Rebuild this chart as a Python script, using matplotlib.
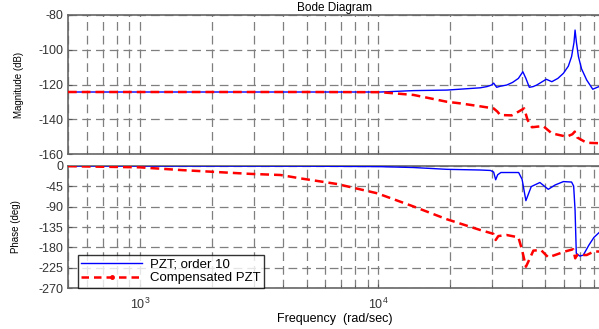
import matplotlib
matplotlib.use("Agg")
import matplotlib.pyplot as plt
from matplotlib.lines import Line2D
from matplotlib.ticker import LogLocator, NullFormatter, FixedLocator

plt.rcParams['font.family'] = ['Liberation Sans', 'DejaVu Sans']
plt.rcParams['axes.unicode_minus'] = False

# ---- data ----
mag_pzt_w = [500, 1000, 5000, 10200, 14060, 19370, 26700, 28500, 29800, 30400, 31300,
             32400, 34500, 36500, 38600, 40300, 41500, 42900, 44500, 46100, 50500,
             53300, 56500, 59600, 62500, 64500, 66000, 66700, 67600, 68900, 71000,
             74600, 79100, 84000, 87000]
mag_pzt_db = [-124.3, -124.3, -124.3, -124.3, -123.5, -123.2, -121.9, -121.2, -120.3, -119.2, -121.6,
              -121.0, -120.3, -118.8, -116.5, -112.7, -116.5, -121.6, -121.2, -120.3, -117.0,
              -118.4, -116.5, -113.6, -109.5, -104.0, -96.0, -88.8, -96.0, -104.0, -111.0,
              -117.4, -122.7, -121.2, -120.5]

mag_comp_w = [500, 5000, 10200, 14060, 19370, 22000, 26700, 30400, 31500, 32400, 36200,
              38600, 40800, 42200, 44000, 49000, 53300, 61500, 65000, 66500, 68000,
              74600, 87000]
mag_comp_db = [-124.3, -124.3, -124.4, -126.0, -129.9, -130.8, -132.5, -133.7, -135.5, -137.5, -137.7,
               -135.6, -133.7, -140.4, -144.5, -143.8, -148.0, -149.9, -148.5, -147.0, -150.3,
               -153.4, -153.7]

ph_pzt_w = [500, 1000, 5000, 10000, 14000, 19370, 26700, 29500, 30400, 31000, 31600,
            32600, 38700, 40000, 41500, 43700, 47500, 51500, 55000, 59600, 64500,
            65800, 66700, 67500, 69800, 72200, 76200, 80000, 87000]
ph_pzt_deg = [-0.5, -0.7, -1.0, -2.0, -4.0, -8.0, -9.5, -10.5, -14.0, -31.0, -20.0,
              -15.0, -15.0, -30.0, -77.0, -46.0, -37.0, -52.0, -42.5, -35.0, -36.0,
              -45.0, -97.6, -193.0, -199.0, -197.0, -175.0, -158.0, -140.0]

ph_comp_w = [500, 1000, 1480, 2900, 3890, 4720, 6710, 9890, 14060, 19370, 26700, 30300,
             31000, 31800, 34400, 38600, 40000, 41500, 42800, 44600, 48000, 51500,
             55000, 60500, 65500, 66800, 68000, 71000, 74600, 80000, 87000]
ph_comp_deg = [-1.0, -3.6, -9.5, -18.0, -20.5, -28.0, -40.3, -60.8, -90.0, -118.0, -141.6, -150.0,
               -163.6, -155.0, -152.6, -157.7, -185.7, -222.5, -207.7, -187.0, -185.7, -201.8,
               -196.7, -189.0, -184.0, -204.0, -196.7, -196.7, -196.7, -189.0, -189.0]

mag_ticks = [-80, -100, -120, -140, -160]
ph_ticks = [0, -45, -90, -135, -180, -225, -270]
legend_labels = ['PZT; order 10', 'Compensated PZT']
title = 'Bode Diagram'
xlabel = 'Frequency  (rad/sec)'

# ---- figure ----
W, H = 599, 329
fig = plt.figure(figsize=(W / 100, H / 100), dpi=100)

def px_axes(l, t, r, b):
    return fig.add_axes([l / W, 1 - b / H, (r - l) / W, (b - t) / H])

ax1 = px_axes(68, 14.7, 602, 154.3)
ax2 = px_axes(68, 165.7, 602, 288.3)

xlim = (500, 86500)
tick_col = '#333333'
grid_kw = dict(color='#7f7f7f', linestyle=(0, (7, 4)), linewidth=0.9)
red_ls = (0, (3.5, 2))

for ax in (ax1, ax2):
    ax.set_xscale('log')
    ax.set_xlim(*xlim)
    ax.xaxis.set_major_locator(LogLocator(base=10, numticks=10))
    ax.xaxis.set_minor_locator(LogLocator(base=10, subs=range(2, 10), numticks=20))
    ax.xaxis.set_minor_formatter(NullFormatter())
    ax.grid(True, which='both', axis='x', **grid_kw)
    ax.grid(True, which='major', axis='y', **grid_kw)
    ax.tick_params(which='both', direction='in', colors='#555555', labelcolor=tick_col,
                   labelsize=9, length=3)
    ax.tick_params(which='minor', length=2)
    for s in ax.spines.values():
        s.set_color('#666666')
        s.set_linewidth(1.2)

ax1.plot(mag_pzt_w, mag_pzt_db, color='#0000ff', lw=1.0, zorder=3)
ax1.plot(mag_comp_w, mag_comp_db, color='#ff0000', lw=1.8, ls=red_ls, zorder=3)
ax1.set_ylim(-160, -80)
ax1.yaxis.set_major_locator(FixedLocator(mag_ticks))
ax1.tick_params(labelbottom=False)
ax1.set_ylabel('Magnitude (dB)', fontsize=7, color='black', labelpad=10)
ax1.set_title(title, fontsize=8.5, pad=3, color='black')

ax2.plot(ph_pzt_w, ph_pzt_deg, color='#0000ff', lw=1.0, zorder=3)
ax2.plot(ph_comp_w, ph_comp_deg, color='#ff0000', lw=1.8, ls=red_ls, zorder=3)
ax2.set_ylim(-270, 0)
ax2.yaxis.set_major_locator(FixedLocator(ph_ticks))
ax2.set_ylabel('Phase (deg)', fontsize=7, color='black', labelpad=12)
ax2.set_xlabel(xlabel, fontsize=9, color='black', labelpad=1)
ax2.tick_params(axis='x', pad=6)

handles = [Line2D([], [], color='#0000ff', lw=1.0),
           Line2D([], [], color='#ff0000', lw=1.8, ls=(0, (3, 2)), marker='.', markersize=5)]
leg = ax2.legend(handles, legend_labels, loc='lower left', bbox_to_anchor=(10 / 534, 0.005),
                 fontsize=9.5, frameon=True, fancybox=False, handlelength=4.6,
                 borderpad=0.25, labelspacing=0.1, handletextpad=0.6, borderaxespad=0)
leg.get_frame().set_edgecolor('black')
leg.get_frame().set_linewidth(1.0)

fig.savefig('out.png', dpi=100)
